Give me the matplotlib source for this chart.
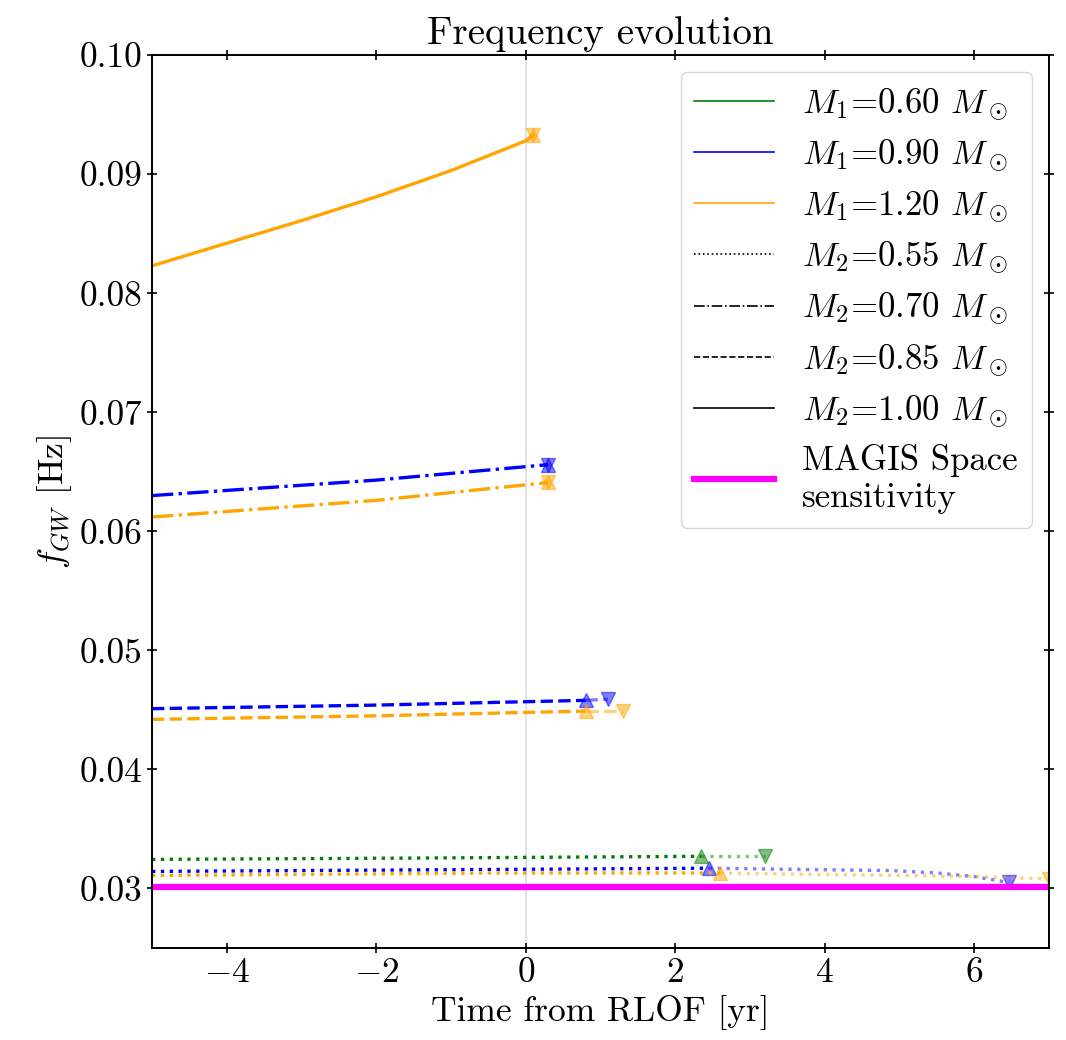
import numpy as np
import matplotlib
matplotlib.use("Agg")
import matplotlib.pyplot as plt
from matplotlib.lines import Line2D

plt.rcParams['font.family'] = 'serif'
plt.rcParams['font.serif'] = ['cmr10', 'DejaVu Serif']
plt.rcParams['mathtext.fontset'] = 'cm'
plt.rcParams['axes.formatter.use_mathtext'] = True

# colours per primary mass, linestyles per secondary mass
m1_labels = ['0.60', '0.90', '1.20']
m1_colors = ['green', 'blue', 'orange']
m2_labels = ['0.55', '0.70', '0.85', '1.00']
m2_styles = [':', '-.', '--', '-']

# M1=1.20, M2=1.00
t_12_100 = [-5.0, -4.0, -3.0, -2.0, -1.0, 0.0, 0.1]
f_12_100 = [0.0823, 0.0842, 0.0861, 0.0881, 0.0903, 0.0928, 0.0933]
# M1=0.90, M2=0.70
t_09_070 = [-5.0, -2.0, 0.3]
f_09_070 = [0.0630, 0.0643, 0.0656]
# M1=1.20, M2=0.70
t_12_070 = [-5.0, -2.0, 0.3]
f_12_070 = [0.0612, 0.0626, 0.0641]
# M1=0.90, M2=0.85
t_09_085 = [-5.0, -2.0, 0.8]
f_09_085 = [0.0451, 0.0454, 0.0458]
t_09_085_post = [0.8, 1.1]
f_09_085_post = [0.0458, 0.0459]
# M1=1.20, M2=0.85
t_12_085 = [-5.0, -2.0, 0.8]
f_12_085 = [0.0442, 0.0445, 0.0449]
t_12_085_post = [0.8, 1.3]
f_12_085_post = [0.0449, 0.0449]
# M1=0.60, M2=0.55
t_06_055 = [-5.0, -1.5, 2.35]
f_06_055 = [0.03244, 0.03255, 0.0327]
t_06_055_post = [2.35, 3.2]
f_06_055_post = [0.0327, 0.0327]
# M1=0.90, M2=0.55
t_09_055 = [-5.0, -0.3, 2.45]
f_09_055 = [0.03143, 0.0316, 0.0317]
t_09_055_post = [2.45, 3.6, 4.9, 5.5, 6.0, 6.46]
f_09_055_post = [0.0317, 0.0316, 0.0315, 0.0313, 0.0310, 0.0305]
# M1=1.20, M2=0.55
t_12_055 = [-5.0, -0.3, 2.6]
f_12_055 = [0.03109, 0.0313, 0.0313]
t_12_055_post = [2.6, 3.6, 5.0, 6.0, 7.0]
f_12_055_post = [0.0313, 0.0312, 0.0311, 0.0310, 0.0308]

magis_f = 0.0301

# (color index, style index, pre-RLOF t, f, post-RLOF t, f)
tracks = [
    (2, 3, t_12_100, f_12_100, [t_12_100[-1]], [f_12_100[-1]]),
    (1, 1, t_09_070, f_09_070, [t_09_070[-1]], [f_09_070[-1]]),
    (2, 1, t_12_070, f_12_070, [t_12_070[-1]], [f_12_070[-1]]),
    (1, 2, t_09_085, f_09_085, t_09_085_post, f_09_085_post),
    (2, 2, t_12_085, f_12_085, t_12_085_post, f_12_085_post),
    (0, 0, t_06_055, f_06_055, t_06_055_post, f_06_055_post),
    (1, 0, t_09_055, f_09_055, t_09_055_post, f_09_055_post),
    (2, 0, t_12_055, f_12_055, t_12_055_post, f_12_055_post),
]

fig, ax = plt.subplots(figsize=(10.66, 10.40), dpi=100)
fig.subplots_adjust(left=0.1426, right=0.984, top=0.947, bottom=0.0885)

ax.axvline(0, color='lightgray', lw=1.2, alpha=0.8, zorder=0)

for ci, si, t, f, tp, fp in tracks:
    c = m1_colors[ci]
    ls = m2_styles[si]
    ax.plot(t, f, color=c, ls=ls, lw=2.4)
    if len(tp) > 1:
        ax.plot(tp, fp, color=c, ls=ls, lw=2.4, alpha=0.5)
    ax.plot(t[-1], f[-1], marker='^', color=c, ms=10, alpha=0.5, ls='none')
    ax.plot(tp[-1], fp[-1], marker='v', color=c, ms=10, alpha=0.5, ls='none')

ax.axhline(magis_f, color='magenta', lw=4.5)

ax.set_xlim(-5, 7)
ax.set_ylim(0.025, 0.10)
ax.set_yticks([0.03, 0.04, 0.05, 0.06, 0.07, 0.08, 0.09, 0.10])
ax.set_yticklabels(['0.03', '0.04', '0.05', '0.06', '0.07', '0.08', '0.09', '0.10'])
ax.tick_params(direction='inout', length=7, width=1.2, top=True, right=True,
               labelsize=25.5)
for sp in ax.spines.values():
    sp.set_linewidth(1.4)

ax.set_title('Frequency evolution', fontsize=28, pad=8)
ax.set_xlabel('Time from RLOF [yr]', fontsize=25.5)
ax.set_ylabel(r'$f_{GW}$ [Hz]', fontsize=25.5)

handles = []
for lab, c in zip(m1_labels, m1_colors):
    handles.append(Line2D([], [], color=c, lw=1.2, label=r'$M_1$=' + lab + r' $M_\odot$'))
for lab, ls in zip(m2_labels, m2_styles):
    handles.append(Line2D([], [], color='black', ls=ls, lw=1.2, label=r'$M_2$=' + lab + r' $M_\odot$'))
handles.append(Line2D([], [], color='magenta', lw=4.5, label='MAGIS Space\nsensitivity'))
leg = ax.legend(handles=handles, loc='upper right', fontsize=25, handlelength=2.3,
                handletextpad=0.8, labelspacing=0.42, borderaxespad=0.5)

fig.savefig('out.png', dpi=100)
